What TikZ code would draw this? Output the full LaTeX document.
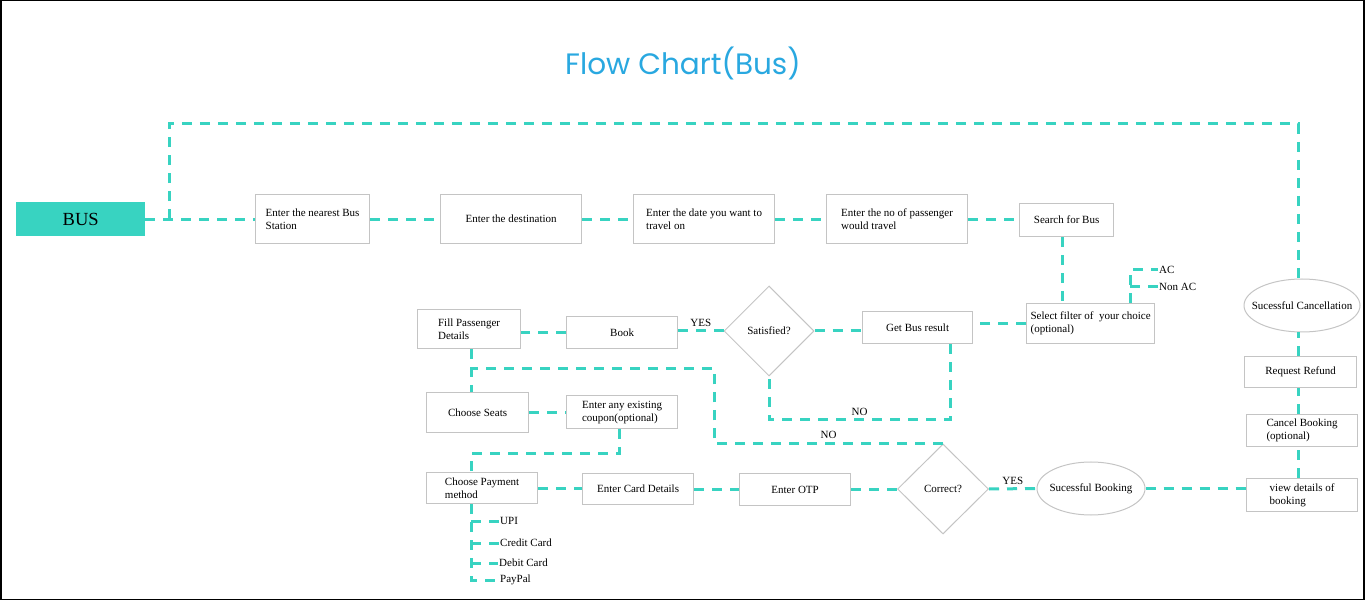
\documentclass[tikz,border=0pt]{standalone}
\usepackage{fontspec}
\setmainfont{Liberation Serif}
\newfontfamily\titlefont{Poppins}
\usetikzlibrary{shapes.geometric,positioning}

\definecolor{flowteal}{HTML}{38D3C1}
\definecolor{titleblue}{HTML}{29A8E0}
\definecolor{boxgray}{HTML}{C4C4C4}
\newcommand{\flowfont}{\fontsize{11}{13}\selectfont}

\tikzset{
  box/.style={draw=boxgray, line width=1.2pt, anchor=north west, align=left, inner sep=2pt, font=\flowfont},
  decision/.style={diamond, draw=boxgray, line width=1pt, minimum width=90pt, minimum height=90pt, inner sep=0pt, font=\flowfont},
  oval/.style={ellipse, draw=boxgray, line width=1pt, minimum height=53pt, inner sep=0pt, font=\flowfont},
  flow/.style={draw=flowteal, line width=3pt, dash pattern=on 10pt off 8pt},
  note/.style={font=\flowfont, inner sep=1pt},
  option/.style={font=\flowfont, inner sep=1pt, anchor=west}
}

\begin{document}
\begin{tikzpicture}[x=1pt,y=-1pt]
  \useasboundingbox (0,0) rectangle (1366,601);
  \draw[line width=1.5pt] (0.75,0.75) rectangle (1364,599.5);

  \node[font=\titlefont\fontsize{29.5}{32}\selectfont, text=titleblue] (title) at (683,63) {Flow Chart(Bus)};

  %top row
  \node[fill=flowteal, anchor=north west, minimum width=129pt, minimum height=34pt, font=\fontsize{18.5}{22}\selectfont] (bus) at (16,202) {BUS\hspace{10pt}};
  \node[box, minimum width=114pt, minimum height=49pt] (station) at (255,194) {Enter the nearest Bus\\Station};
  \node[box, minimum width=141pt, minimum height=49pt] (dest) at (440,194) {Enter the destination};
  \node[box, minimum width=141pt, minimum height=49pt] (date) at (633,194) {Enter the date you want to\\travel on};
  \node[box, minimum width=141pt, minimum height=49pt] (pax) at (826,194) {Enter the no of passenger\\would travel};
  \node[box, minimum width=94pt, minimum height=33pt] (search) at (1019,203) {Search for Bus};

  %search and booking
  \node[box, minimum width=128pt, minimum height=40pt] (filter) at (1026,303) {Select filter of\ \ your choice\\(optional)};
  \node[option] (ac) at (1158,270) {AC};
  \node[option] (nonac) at (1158,287) {Non AC};
  \node[box, minimum width=110pt, minimum height=32pt] (getbus) at (862,311) {Get Bus result};
  \node[decision] (satisfied) at (769,331) {Satisfied?};
  \node[box, minimum width=111pt, minimum height=32pt] (book) at (566,316) {Book};
  \node[box, minimum width=103pt, minimum height=39pt] (fill) at (417,309) {Fill Passenger\\Details};
  \node[box, minimum width=102pt, minimum height=40pt] (seats) at (426,392) {Choose Seats};
  \node[box, minimum width=111pt, minimum height=33pt] (coupon) at (566,395) {Enter any existing\\coupon(optional)};

  %payment
  \node[box, minimum width=111pt, minimum height=31pt] (payment) at (426,472) {Choose Payment\\method};
  \node[box, minimum width=111pt, minimum height=31pt] (card) at (582,473) {Enter Card Details};
  \node[box, minimum width=111pt, minimum height=32pt] (otp) at (739,473) {Enter OTP};
  \node[decision, minimum width=91pt] (correct) at (943,489) {Correct?};
  \node[option] (upi) at (499,521) {UPI};
  \node[option] (credit) at (499,543) {Credit Card};
  \node[option] (debit) at (498,563) {Debit Card};
  \node[option] (paypal) at (499,580) {PayPal};

  %after booking
  \node[oval, minimum width=108pt] (booked) at (1091,488.5) {\makebox[0pt]{Sucessful Booking}};
  \node[box, minimum width=111pt, minimum height=33pt] (details) at (1246,478) {view details of\\booking};
  \node[box, minimum width=111pt, minimum height=32pt] (cancel) at (1246,414) {Cancel Booking\\(optional)};
  \node[box, minimum width=112pt, minimum height=31pt] (refund) at (1244,356) {Request Refund};
  \node[oval, minimum width=116pt] (cancelled) at (1302,305.5) {\makebox[0pt]{Sucessful Cancellation}};

  \coordinate (looptop) at (169,124);
  \coordinate (spine) at (1298,124);
  \coordinate (acfork) at (1130,303);
  \coordinate (noloop) at (950,420);
  \coordinate (retry) at (714,369);
  \coordinate (couponx) at (619,454);
  \coordinate (rail) at (471,454);

  %connectors
  \draw[flow] (bus.east) -- (bus.east -| station.west);
  \draw[flow] (bus.east -| looptop) -- (looptop) -- (spine) -- (cancelled.north -| spine);
  \draw[flow] (station.east) -- (dest.west);
  \draw[flow] (dest.east) -- (date.west);
  \draw[flow] (date.east) -- (pax.west);
  \draw[flow] (pax.east) -- (pax.east -| search.west);
  \draw[flow] (search.south -| 1062,0) -- (filter.north -| 1062,0);
  \draw[flow] (filter.north -| acfork) -- (acfork |- ac.west) -- (ac.west);
  \draw[flow] (acfork |- nonac.west) -- (nonac.west);
  \draw[flow] (filter.west) -- (filter.west -| getbus.east);
  \draw[flow] (satisfied.east) -- (satisfied.east -| getbus.west);
  \draw[flow] (satisfied.west) -- node[note, above=2pt] {YES} (satisfied.west -| book.east);
  \draw[flow] (getbus.south -| noloop) -- (noloop) -- node[note, above=2pt] {NO} (noloop -| satisfied.south) -- (satisfied.south);
  \draw[flow] (book.west) -- (book.west -| fill.east);
  \draw[flow] (fill.south -| rail) -- (seats.north -| rail);
  \draw[flow] (correct.north) -- node[note, above=2pt] {NO} (correct.north -| retry) -- (retry) -- (retry -| rail);
  \draw[flow] (seats.east) -- (seats.east -| coupon.west);
  \draw[flow] (coupon.south -| couponx) -- (couponx) -- (rail) -- (payment.north -| rail);
  \draw[flow] (payment.east) -- (payment.east -| card.west);
  \draw[flow] (card.east) -- (card.east -| otp.west);
  \draw[flow] (otp.east) -- (otp.east -| correct.west);
  \draw[flow] (correct.east) -- node[note, above=2pt] {YES} (booked.west);
  \draw[flow] (booked.east) -- (booked.east -| details.west);
  \draw[flow] (details.north -| spine) -- (cancel.south -| spine);
  \draw[flow] (cancel.north -| spine) -- (refund.south -| spine);
  \draw[flow] (refund.north -| spine) -- (cancelled.south -| spine);

  %payment options
  \draw[flow] (payment.south -| rail) -- (paypal.west -| rail) -- (paypal.west);
  \foreach \opt in {upi,credit,debit}
    \draw[flow] (\opt.west -| rail) -- (\opt.west);
\end{tikzpicture}
\end{document}
